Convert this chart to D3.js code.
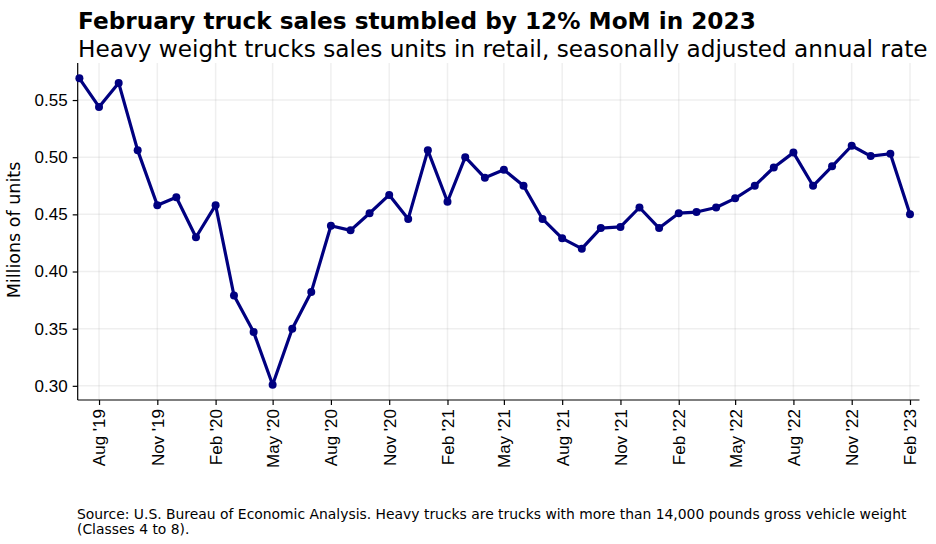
<!DOCTYPE html>
<html>
<head>
<meta charset="utf-8">
<script src="https://cdn.jsdelivr.net/npm/d3@7"></script>
<style>
  html, body { margin: 0; padding: 0; background: #fff; }
  svg { display: block; font-family: "DejaVu Sans", sans-serif; }
</style>
</head>
<body>
<svg id="chart" width="936" height="544"></svg>
<script>
// ---- data ----
const startMonth = "2019-07";
const values = [
  0.569, 0.544, 0.565, 0.506, 0.458, 0.465, 0.430, 0.458, 0.379, 0.347, 0.301, 0.350,
  0.382, 0.440, 0.436, 0.451, 0.467, 0.446, 0.506, 0.461, 0.500, 0.482, 0.489, 0.475,
  0.446, 0.429, 0.420, 0.438, 0.439, 0.456, 0.438, 0.451, 0.452, 0.456, 0.464, 0.475,
  0.491, 0.504, 0.475, 0.492, 0.510, 0.501, 0.503, 0.450
];
const yTicks = [0.30, 0.35, 0.40, 0.45, 0.50, 0.55];
const xTickDates = ["2019-08","2019-11","2020-02","2020-05","2020-08","2020-11","2021-02","2021-05","2021-08","2021-11","2022-02","2022-05","2022-08","2022-11","2023-02"];
const title = "February truck sales stumbled by 12% MoM in 2023";
const subtitle = "Heavy weight trucks sales units in retail, seasonally adjusted annual rate";
const yLabel = "Millions of units";
const source = ["Source: U.S. Bureau of Economic Analysis. Heavy trucks are trucks with more than 14,000 pounds gross vehicle weight", "(Classes 4 to 8)."];

const parseM = d3.timeParse("%Y-%m");
const start = parseM(startMonth);
const data = values.map((v, i) => ({ date: d3.timeMonth.offset(start, i), value: v }));

// ---- layout ----
const svg = d3.select("#chart");
const mLeft = 77.7, mRight = 919.5, mTop = 63, mBottom = 400;

const x = d3.scaleTime()
  .domain([new Date(2019, 5, 28, 8), new Date(2023, 1, 16)])
  .range([mLeft, mRight]);
const y = d3.scaleLinear()
  .domain([0.2876, 0.5824])
  .range([mBottom, mTop]);

// grid
const grid = svg.append("g");
grid.selectAll("line.h").data(yTicks).join("line")
  .attr("x1", mLeft).attr("x2", mRight)
  .attr("y1", d => y(d)).attr("y2", d => y(d))
  .attr("stroke", "#b0b0b0").attr("stroke-opacity", 0.2).attr("stroke-width", 1.5);
grid.selectAll("line.v").data(xTickDates).join("line")
  .attr("x1", d => x(parseM(d))).attr("x2", d => x(parseM(d)))
  .attr("y1", mTop).attr("y2", mBottom)
  .attr("stroke", "#b0b0b0").attr("stroke-opacity", 0.2).attr("stroke-width", 1.5);

// axes
const yAxis = d3.axisLeft(y).tickValues(yTicks).tickFormat(d3.format(".2f")).tickSize(5).tickPadding(5);
const gy = svg.append("g").attr("transform", `translate(${mLeft},0)`).call(yAxis);
gy.select(".domain").attr("d", `M0,${mTop}V${mBottom}`).attr("stroke", "#000").attr("stroke-width", 1.2);
gy.selectAll(".tick text").attr("font-size", 17).attr("fill", "#000");
gy.selectAll(".tick line").attr("stroke", "#000").attr("stroke-width", 1.2);

const xAxis = d3.axisBottom(x).tickValues(xTickDates.map(parseM))
  .tickFormat(d3.timeFormat("%b '%y")).tickSize(5).tickPadding(4);
const gx = svg.append("g").attr("transform", `translate(0,${mBottom})`).call(xAxis);
gx.select(".domain").attr("d", `M${mLeft},0H${mRight}`).attr("stroke", "#000").attr("stroke-width", 1.2);
gx.selectAll(".tick line").attr("stroke", "#000").attr("stroke-width", 1.2);
gx.selectAll(".tick text")
  .attr("font-size", 17).attr("fill", "#000")
  .attr("transform", "rotate(-90)")
  .attr("text-anchor", "end")
  .attr("x", -9).attr("y", 0).attr("dy", "0.35em");

// line
const line = d3.line().x(d => x(d.date)).y(d => y(d.value));
svg.append("path").datum(data)
  .attr("d", line).attr("fill", "none")
  .attr("stroke", "#000080").attr("stroke-width", 3.2)
  .attr("stroke-linejoin", "round").attr("stroke-linecap", "round");
svg.append("g").selectAll("circle").data(data).join("circle")
  .attr("cx", d => x(d.date)).attr("cy", d => y(d.value))
  .attr("r", 4).attr("fill", "#000080");

// labels
svg.append("text").attr("transform", `translate(20,230) rotate(-90)`)
  .attr("text-anchor", "middle").attr("font-size", 17.5).attr("fill", "#000").text(yLabel);

svg.append("text").attr("x", 78).attr("y", 29).attr("font-size", 23.2).attr("font-weight", "bold")
  .attr("fill", "#000").text(title);
svg.append("text").attr("x", 78).attr("y", 57).attr("font-size", 23.2)
  .attr("fill", "#000").text(subtitle);

svg.append("g").selectAll("text").data(source).join("text")
  .attr("x", 77).attr("y", (d, i) => 519 + i * 14.5)
  .attr("font-size", 13.9).attr("fill", "#000").text(d => d);
</script>
</body>
</html>
